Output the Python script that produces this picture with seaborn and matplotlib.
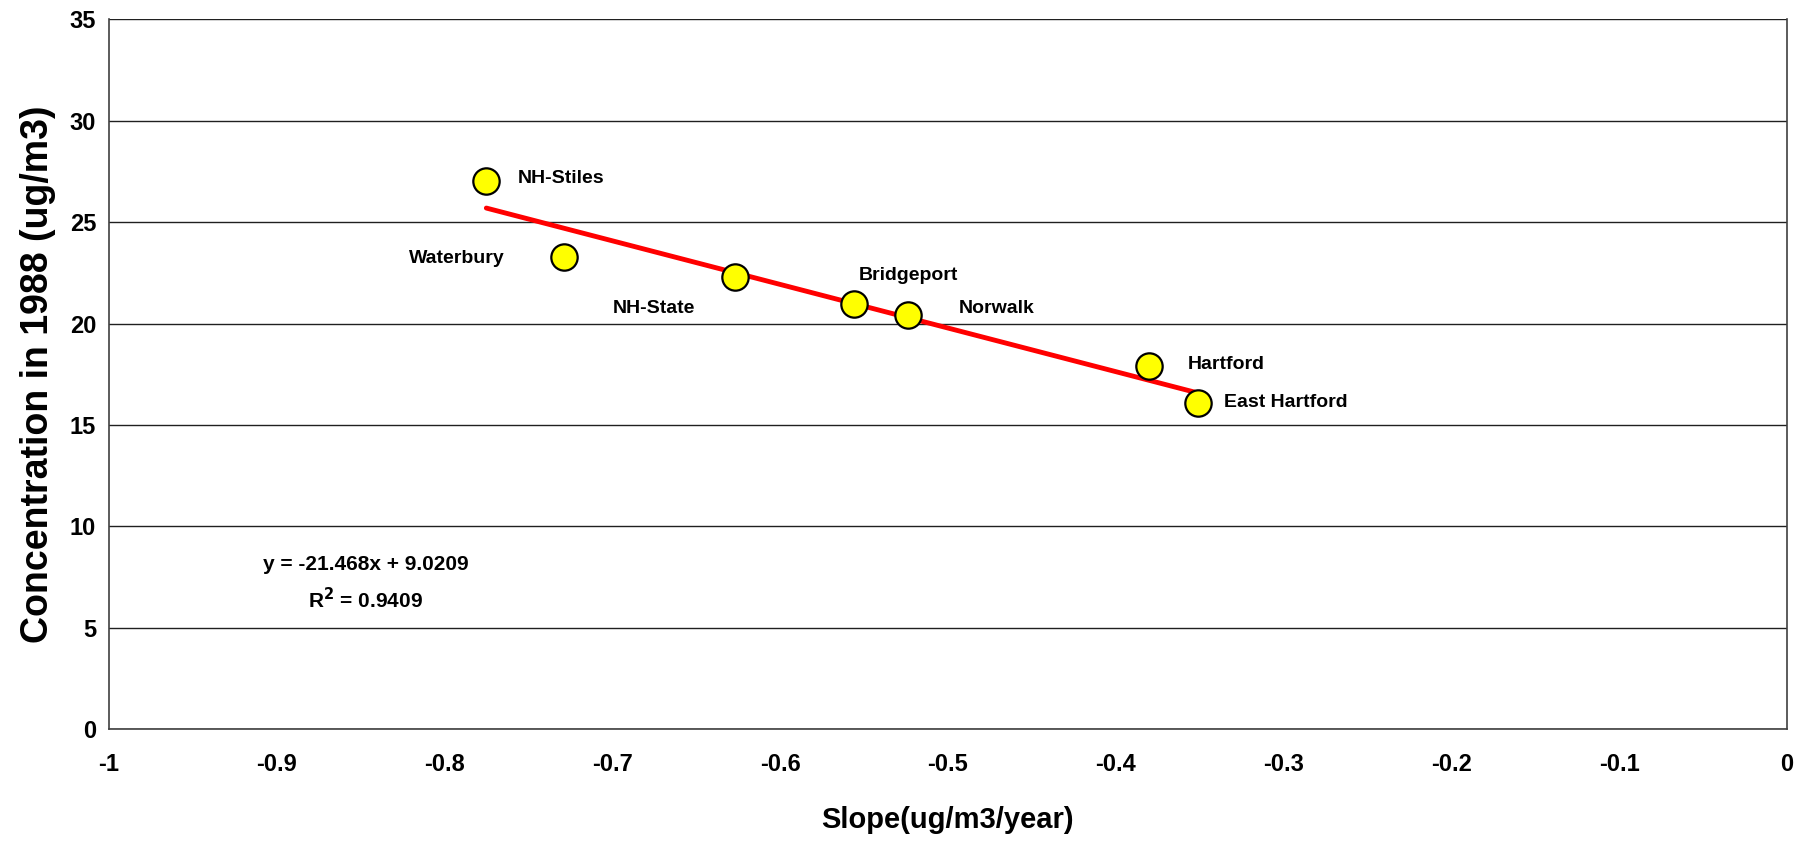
import pandas as pd
import matplotlib.pyplot as plt
import seaborn as sns

# Data
sites = ['NH-Stiles', 'Waterbury', 'NH-State', 'Bridgeport', 'Norwalk', 'Hartford', 'East Hartford']
slope = [-0.775, -0.729, -0.627, -0.556, -0.524, -0.380, -0.351]
conc_1988 = [27.04, 23.26, 22.30, 20.94, 20.44, 17.90, 16.09]
x_ticks = [-1, -0.9, -0.8, -0.7, -0.6, -0.5, -0.4, -0.3, -0.2, -0.1, 0]
x_tick_labels = ['-1', '-0.9', '-0.8', '-0.7', '-0.6', '-0.5', '-0.4', '-0.3', '-0.2', '-0.1', '0']
y_ticks = [0, 5, 10, 15, 20, 25, 30, 35]
eq_text = 'y = -21.468x + 9.0209'
r2_text = 'R$^2$ = 0.9409'

# label offsets in pixels (dx, dy, horizontal alignment)
label_offsets = [(31, 2, 'left'), (-59, -1, 'right'), (-122, -32, 'left'), (5, 29, 'left'),
                 (51, 6, 'left'), (38, 2, 'left'), (26, 0, 'left')]

df = pd.DataFrame({'site': sites, 'slope': slope, 'conc': conc_1988})

sns.set_theme(style="whitegrid")
plt.rcParams['font.family'] = ['Liberation Sans', 'DejaVu Sans']
plt.rcParams['font.weight'] = 'bold'
plt.rcParams['text.color'] = 'black'
plt.rcParams['axes.labelcolor'] = 'black'
plt.rcParams['xtick.color'] = 'black'
plt.rcParams['ytick.color'] = 'black'

fig = plt.figure(figsize=(17.94, 8.46), dpi=100)
ax = fig.add_axes([0.0606, 0.1383, 0.9355, 0.8387])
ax.set_facecolor('white')

# trend line (linear fit of the points)
sns.regplot(x='slope', y='conc', data=df, scatter=False, ci=None, truncate=True,
            line_kws={'color': '#ff0000', 'linewidth': 3.5, 'zorder': 2}, ax=ax)

# points
sns.scatterplot(x='slope', y='conc', data=df, color='#ffff00', edgecolor='black',
                linewidth=1.6, s=360, zorder=3, ax=ax)

for (name, xv, yv), (dx, dy, ha) in zip(zip(sites, slope, conc_1988), label_offsets):
    ax.annotate(name, (xv, yv), xytext=(dx, dy), textcoords='offset pixels',
                ha=ha, va='center', fontsize=14, fontweight='bold', color='black')

ax.text(-0.847, 8.1, eq_text, ha='center', va='center', fontsize=15, fontweight='bold')
ax.text(-0.847, 6.4, r2_text, ha='center', va='center', fontsize=15, fontweight='bold')

ax.set_xlim(-1, 0)
ax.set_ylim(0, 35)
ax.set_xticks(x_ticks)
ax.set_xticklabels(x_tick_labels)
ax.set_yticks(y_ticks)

ax.grid(axis='y', color='#202020', linewidth=1.0)
ax.grid(axis='x', visible=False)
for side in ['left', 'bottom', 'right']:
    ax.spines[side].set_visible(True)
    ax.spines[side].set_color('#404040')
    ax.spines[side].set_linewidth(1.2)
ax.spines['top'].set_visible(False)

ax.tick_params(axis='both', which='both', direction='out', length=6, width=1, color='#404040',
               labelsize=17, pad=3)
ax.tick_params(axis='x', pad=11)
for lbl in ax.get_xticklabels() + ax.get_yticklabels():
    lbl.set_fontweight('bold')

ax.set_xlabel('Slope(ug/m3/year)', fontsize=21, fontweight='bold', labelpad=22)
ax.set_ylabel('Concentration in 1988 (ug/m3)', fontsize=27, fontweight='bold', labelpad=10)

fig.savefig('out.png', dpi=100, facecolor='white')
